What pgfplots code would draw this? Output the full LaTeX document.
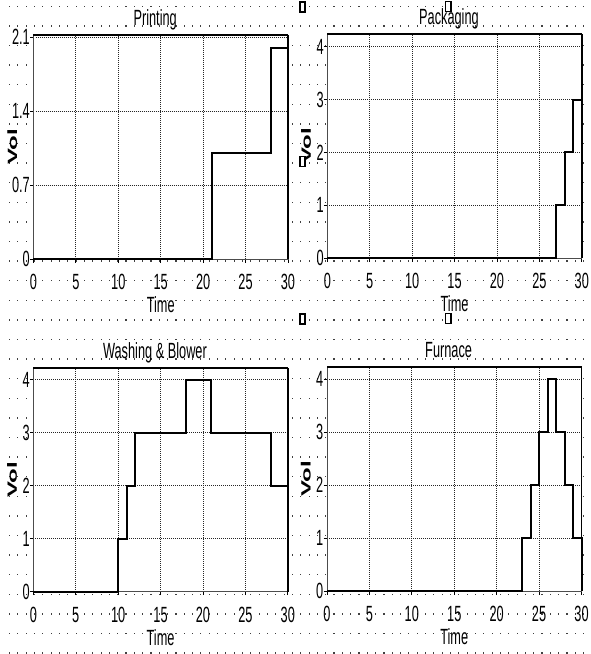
\documentclass[border=0pt]{standalone}
\usepackage{fontspec}
\setmainfont{Liberation Sans}[FakeStretch=0.58]
\newfontfamily\volfont{Liberation Sans}
\usepackage{graphicx}
\usepackage{pgfplots}
\pgfplotsset{compat=1.18}

\pgfplotsset{
  vensim/.style={
    scale only axis, width=254.5pt, height=224pt,
    anchor=south west,
    xmin=0, xmax=30, ymin=0,
    xtick={0,5,...,30},
    clip=false,
    axis background/.style={fill=white},
    grid=major,
    major grid style={black!85, line width=0.9pt, dash pattern=on 1pt off 1pt},
    axis line style={draw=black!70, line width=0.9pt},
    tick style={black, line width=0.9pt},
    tick align=outside, major tick length=3.5pt,
    xtick pos=left, ytick pos=left,
    tick label style={font=\fontsize{22}{24}\selectfont},
    /pgf/number format/assume math mode=true,
    xticklabel style={anchor=base, yshift=-27pt},
    yticklabel style={anchor=east, inner sep=0pt},
    title style={font=\fontsize{22}{24}\selectfont, at={(axis description cs:0.478,1.016)}, anchor=base},
    xlabel=Time,
    xlabel style={font=\fontsize{22}{24}\selectfont, at={(axis description cs:0.5,-0.238)}, anchor=base},
    ylabel={\volfont\bfseries\fontsize{24}{26}\selectfont\scalebox{1}[0.56]{Vol}},
    ylabel style={at={(axis description cs:-0.083,0.5)}, anchor=center},
  },
  step/.style={const plot, black, line width=2pt},
}

\newcommand{\frameit}{%
  \draw[black, line width=2pt] (rel axis cs:0,1) -- (rel axis cs:1,1);
  \draw[black, line width=1.5pt] (rel axis cs:1,0) -- (rel axis cs:1,1);
}
\newcommand{\handle}[2]{%
  \draw[black, fill=white, line width=1.3pt] (#1pt-2.6pt,-#2pt+5pt) rectangle (#1pt+2.6pt,-#2pt-5pt);
}

\begin{document}
\begin{tikzpicture}
\useasboundingbox (0,0) rectangle (590pt,-654pt);
\fill[white] (0,0) rectangle (590pt,-654pt);
% background dot pattern
\foreach \i in {0,...,69}{
  \foreach \j in {0,...,33}{
    \fill[black!75] ({9pt+8.32pt*\i},{-5.5pt-19.6pt*\j}) rectangle ++(1.1pt,-1.5pt);
  }
}

\begin{axis}[vensim, at={(33.5pt,-259pt)}, ymax=2.12, ytick={0,0.7,1.4,2.1},
  yticklabels={0,0.7,1.4,2.1}, title=Printing]
  \addplot[step] coordinates {(0,0) (21,1) (28,2) (30,2)};
  \frameit
\end{axis}

\begin{axis}[vensim, at={(327.3pt,-258pt)}, ymax=4.24, ytick={0,1,2,3,4},
  title=Packaging]
  \addplot[step] coordinates {(0,0) (27,1) (28,2) (29,3) (30,4)};
  \frameit
\end{axis}

\begin{axis}[vensim, at={(33.3pt,-591.7pt)}, ymax=4.23, ytick={0,1,2,3,4},
  title={Washing \& Blower}]
  \addplot[step] coordinates {(0,0) (10,1) (11,2) (12,3) (18,4) (21,3) (28,2) (30,2)};
  \frameit
\end{axis}

\begin{axis}[vensim, at={(327pt,-591pt)}, ymax=4.23, ytick={0,1,2,3,4},
  title=Furnace]
  \addplot[step] coordinates {(0,0) (23,1) (24,2) (25,3) (26,4) (27,3) (28,2) (29,1) (30,0)};
  \frameit
\end{axis}

% selection handles
\handle{302.5}{7}
\handle{448.3}{6.5}
\handle{302.5}{161.5}
\handle{302.5}{319}
\handle{448.3}{318.5}
\end{tikzpicture}
\end{document}
